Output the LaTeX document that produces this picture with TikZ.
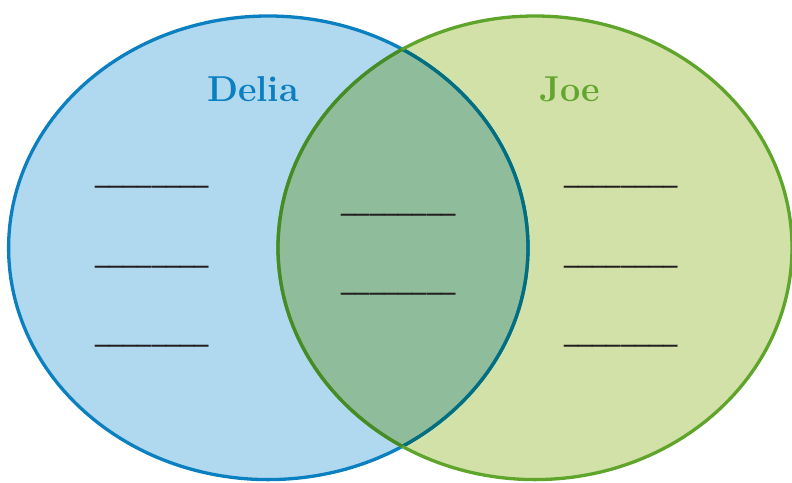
\documentclass[tikz,border=0pt]{standalone}
\usepackage{fontspec}
\newfontfamily\blankfont{DejaVu Sans}
\definecolor{bluefill}{HTML}{B0D8EE}
\definecolor{greenfill}{HTML}{D2E1A8}
\definecolor{overlapfill}{HTML}{8FBC9A}
\definecolor{bluestroke}{HTML}{0A80C0}
\definecolor{greenstroke}{HTML}{5FA42B}
\definecolor{tealstroke}{HTML}{026E7E}
\definecolor{darkgreenstroke}{HTML}{458C27}
\definecolor{delia}{HTML}{0A80C0}
\definecolor{joe}{HTML}{62A62E}
\definecolor{blankink}{HTML}{231F20}
\tikzset{
  setname/.style={font=\bfseries\fontsize{36}{42}\selectfont, anchor=base, inner sep=0pt},
  blank/.style={font=\blankfont\fontsize{28.5}{34}\selectfont, anchor=base west, inner sep=0pt, text=blankink},
  ring/.style={line width=3.3pt}
}
\begin{document}
\begin{tikzpicture}[x=1pt,y=-1pt]
\useasboundingbox (0,0) rectangle (792,482);
\def\Aell{(268.3,247.8) ellipse [x radius=259.7pt, y radius=231.8pt]}
\def\Bell{(535,247.8) ellipse [x radius=257pt, y radius=231.8pt]}
\fill[bluefill] \Aell;
\fill[greenfill] \Bell;
\begin{scope}
  \clip \Aell;
  \fill[overlapfill] \Bell;
\end{scope}
\draw[ring, bluestroke] \Aell;
\begin{scope}
  \clip \Bell;
  \draw[ring, tealstroke] \Aell;
\end{scope}
\draw[ring, greenstroke] \Bell;
\begin{scope}
  \clip \Aell;
  \draw[ring, darkgreenstroke] \Bell;
\end{scope}
\node[setname, text=delia] (delia) at (253,101) {Delia};
\node[setname, text=joe] (joe) at (570,101) {Joe};
\node[blank] (l1) at (95,181) {\_\_\_\_\_\_\_\_};
\node[blank] (l2) at (95,261) {\_\_\_\_\_\_\_\_};
\node[blank] (l3) at (95,340) {\_\_\_\_\_\_\_\_};
\node[blank] (m1) at (341.5,209.5) {\_\_\_\_\_\_\_\_};
\node[blank] (m2) at (341.5,288.5) {\_\_\_\_\_\_\_\_};
\node[blank] (r1) at (564,181) {\_\_\_\_\_\_\_\_};
\node[blank] (r2) at (564,261) {\_\_\_\_\_\_\_\_};
\node[blank] (r3) at (564,340) {\_\_\_\_\_\_\_\_};
\end{tikzpicture}
\end{document}
